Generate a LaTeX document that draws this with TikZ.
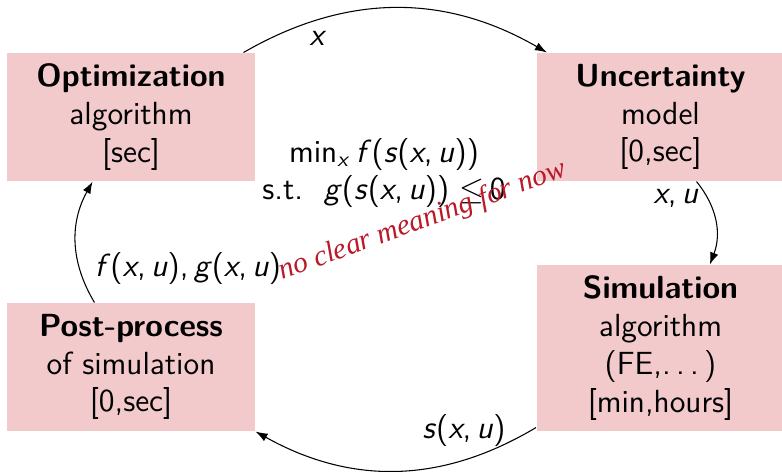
\documentclass[tikz,border=0pt]{standalone}
\usepackage{fontspec}
\usetikzlibrary{arrows.meta}
\newfontfamily\notefont{Liberation Serif}
\definecolor{boxpink}{RGB}{242,202,204}
\definecolor{notered}{RGB}{185,25,40}
\newcommand{\vi}[1]{\textit{#1}}
\begin{document}
\begin{tikzpicture}[x=0.375pt,y=-0.375pt,
  font=\sffamily\fontsize{12}{14.2}\selectfont,
  blk/.style={fill=boxpink, inner sep=0pt, align=center, minimum width=93pt},
  flow/.style={-{Latex[length=4.5pt,width=3.2pt]}, line width=0.4pt},
  lbl/.style={inner sep=1pt}]
\useasboundingbox (0,0) rectangle (782,471);
\node[blk, minimum height=48pt] (opt) at (131,117) {\textbf{Optimization}\\algorithm\\{}[sec]};
\node[blk, minimum height=48pt] (unc) at (660.5,117) {\textbf{Uncertainty}\\model\\{}[0,sec]};
\node[blk, minimum height=62.25pt] (sim) at (660.5,348) {\textbf{Simulation}\\algorithm\\(FE,.\,.\,.\,)\\{}[min,hours]};
\node[blk, minimum height=48pt] (post) at (131,367) {\textbf{Post-process}\\of simulation\\{}[0,sec]};
\draw[flow] ([xshift=-4.5pt]opt.north east) to[bend left=30] ([xshift=4.1pt]unc.north west);
\draw[flow] ([xshift=13.5pt]unc.south) to[bend left=30] ([xshift=18.5pt]sim.north);
\draw[flow] ([yshift=1.5pt]sim.south west) to[bend left=30] (post.south east);
\draw[flow] ([xshift=33pt]post.north west) to[bend left=30] ([xshift=32.3pt]opt.south west);
\node[lbl] (lx) at (318,38) {\vi{x}};
\node[lbl] (lxu) at (676,198) {\vi{x},\,\vi{u}};
\node[lbl] (ls) at (464,430) {\vi{s}(\vi{x},\,\vi{u})};
\node[lbl] (lfg) at (188,268) {\vi{f}(\vi{x},\,\vi{u}),\,\vi{g}(\vi{x},\,\vi{u})};
\node[lbl, align=center] (goal) at (384,173) {min\textsubscript{\vi{x}}\,\vi{f}(\vi{s}(\vi{x},\,\vi{u}))\\s.t.\ \ \vi{g}(\vi{s}(\vi{x},\,\vi{u}))\ $\leq$\,0};
\node[inner sep=0pt, anchor=base, rotate=20, text=notered, font=\notefont\itshape\fontsize{11}{13}\selectfont] (note) at (425,228) {no clear meaning for now};
\end{tikzpicture}
\end{document}
